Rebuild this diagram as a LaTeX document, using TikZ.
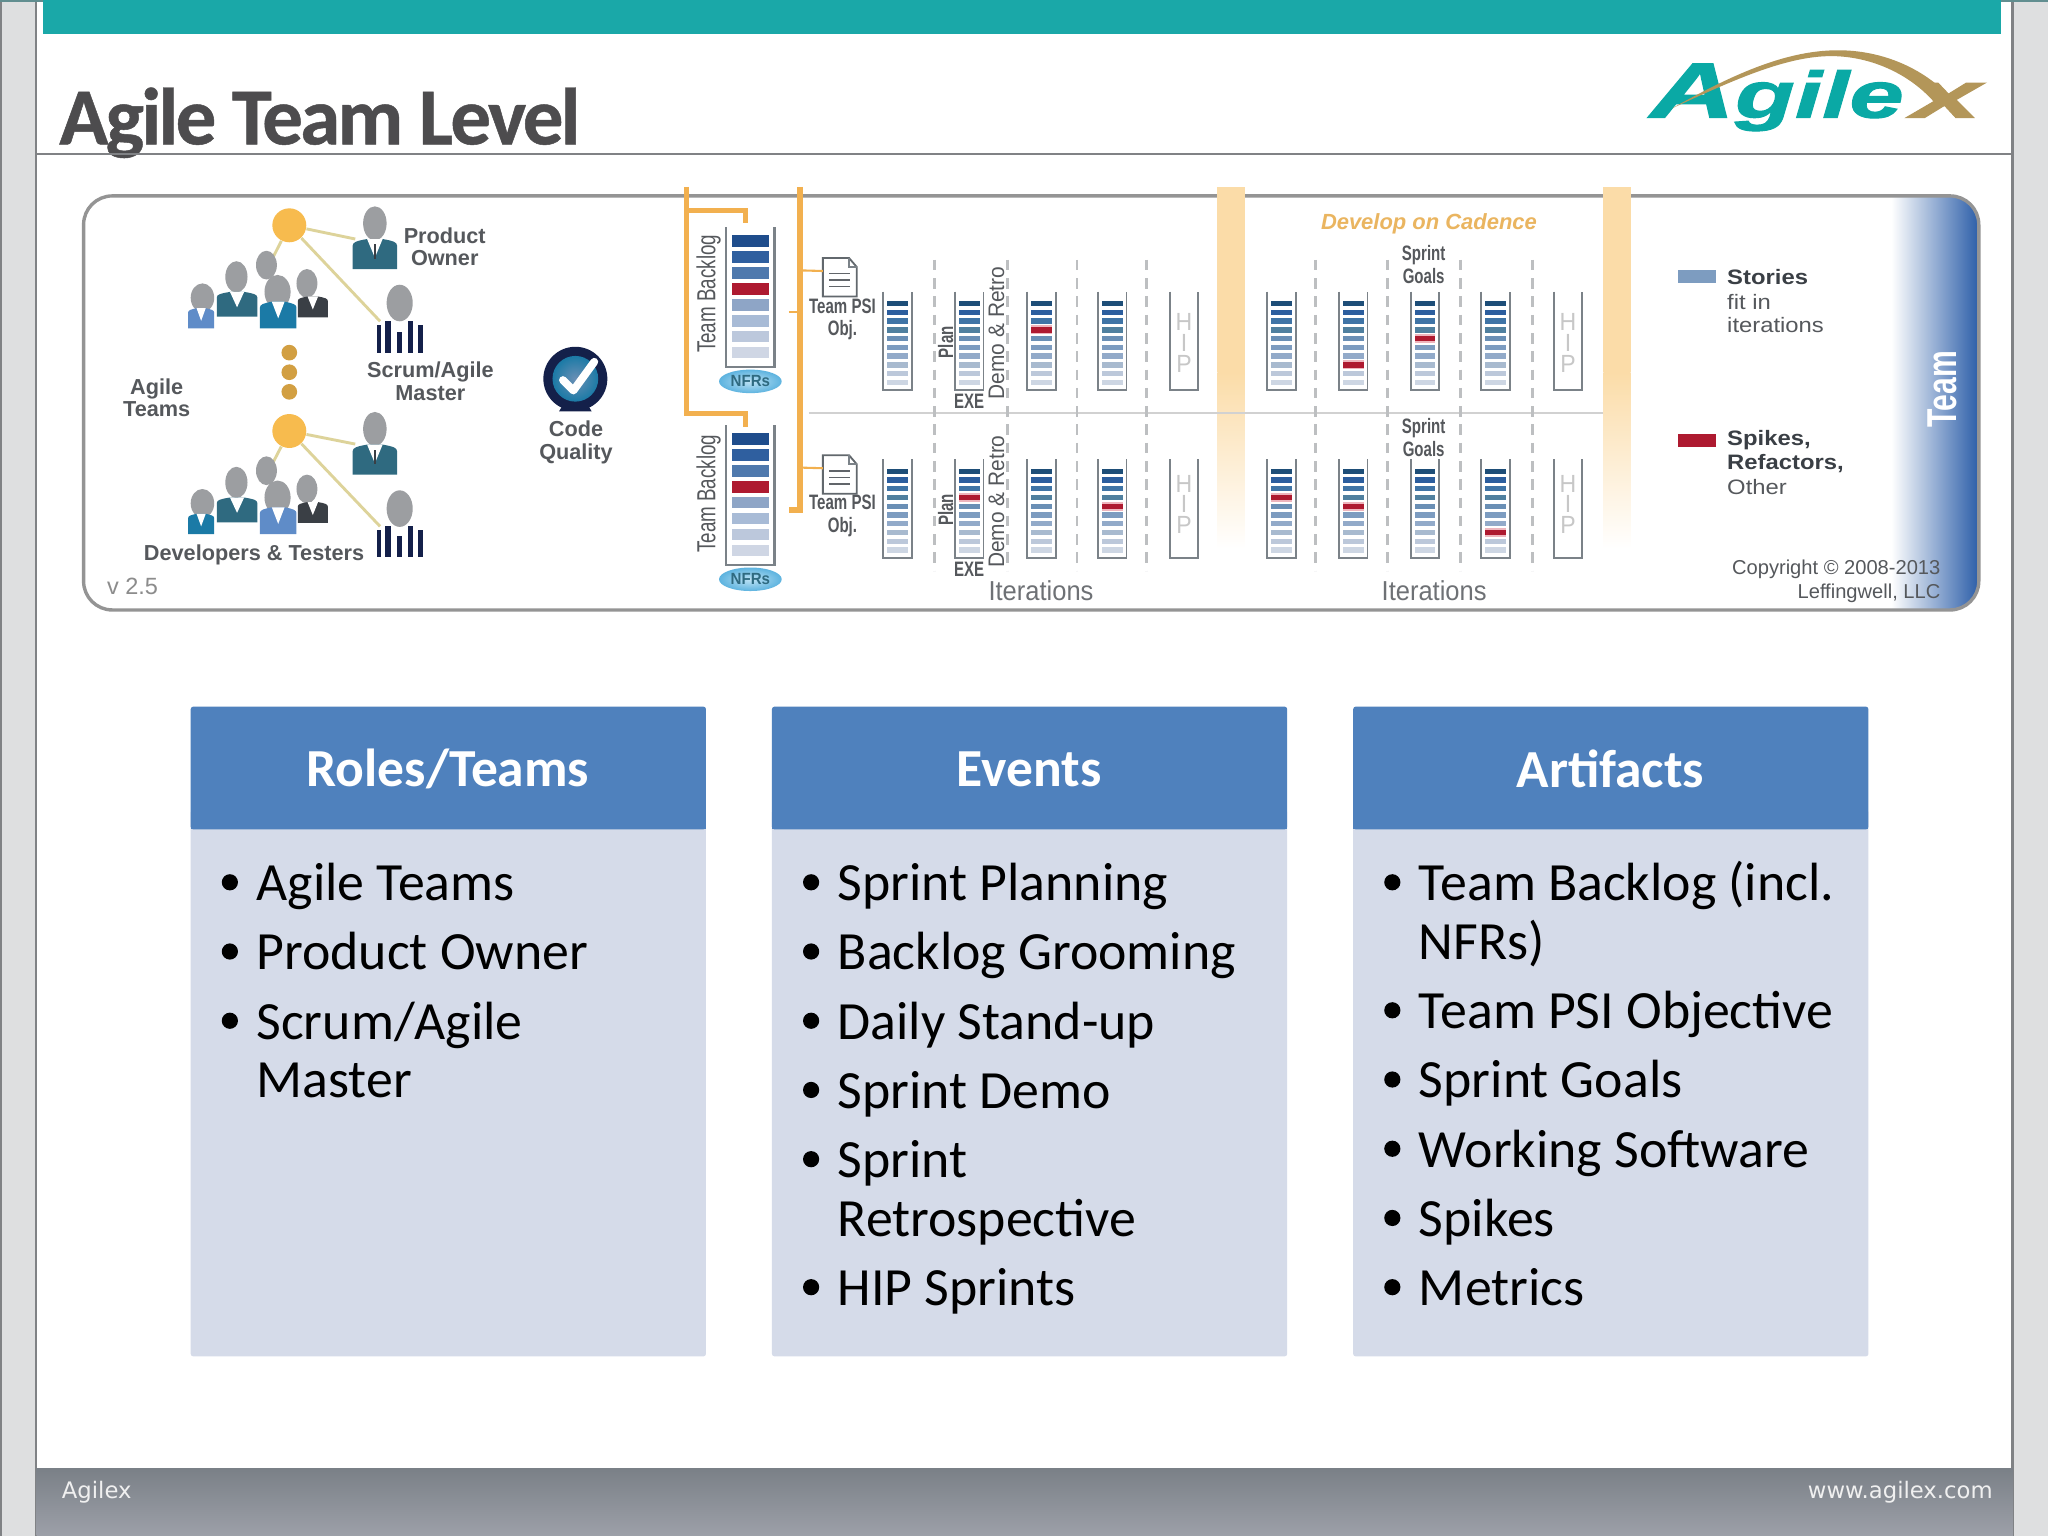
\documentclass[tikz,border=0pt]{standalone}
\usepackage{fontspec}
\setmainfont{Carlito}
\newfontfamily\titlef[LetterSpace=-3.4,FakeBold=0.6]{Carlito}
\newfontfamily\lsans{Liberation Sans}
\newfontfamily\nsans[FakeStretch=0.72]{Liberation Sans}
\newfontfamily\isans[FakeStretch=0.93]{Liberation Sans}
\newfontfamily\wsans[FakeStretch=1.14]{Liberation Sans}
\newfontfamily\logof[FakeStretch=1.5,FakeBold=1.6]{Liberation Sans}
\newfontfamily\logox[FakeStretch=1.9,FakeBold=1.6]{Liberation Sans}
\newfontfamily\dvf{DejaVu Sans}
\definecolor{teal1}{HTML}{1AA8A8}
\definecolor{strip}{HTML}{DEDFE0}
\definecolor{rulegray}{HTML}{808285}
\definecolor{titlec}{HTML}{4D4C4E}
\definecolor{cardhead}{HTML}{4F81BD}
\definecolor{cardbody}{HTML}{D5DBE9}
\definecolor{bandc}{HTML}{FBDCA8}
\definecolor{orangeline}{HTML}{F2B04F}
\definecolor{cadc}{HTML}{EAB560}
\definecolor{hubc}{HTML}{F7BB4E}
\definecolor{linkc}{HTML}{DDD39A}
\definecolor{headc}{HTML}{9C9EA1}
\definecolor{suitc}{HTML}{2F6A80}
\definecolor{brightc}{HTML}{1B7AA6}
\definecolor{softc}{HTML}{5F8CC8}
\definecolor{darkc}{HTML}{3A3F45}
\definecolor{labc}{HTML}{55585C}
\definecolor{navyc}{HTML}{14204A}
\definecolor{redc}{HTML}{AE1A30}
\definecolor{pinkc}{HTML}{EEB5BD}
\definecolor{stackc}{HTML}{7B8288}
\definecolor{dashc}{HTML}{BDBFC1}
\definecolor{goldc}{HTML}{B39659}
\definecolor{logot}{HTML}{0AA9A5}
\definecolor{teamb}{HTML}{2C5EA8}
\definecolor{footT}{HTML}{7A8087}
\definecolor{footB}{HTML}{9DA0A9}
\definecolor{nfrI}{HTML}{BFE3F5}
\definecolor{nfrO}{HTML}{5DB3DF}
\definecolor{stcolA}{HTML}{1E4E78}
\definecolor{stcolB}{HTML}{2C5E9E}
\definecolor{stcolC}{HTML}{3F74A6}
\definecolor{stcolD}{HTML}{50809F}
\definecolor{stcolE}{HTML}{6A8FB5}
\definecolor{stcolF}{HTML}{7D9CC0}
\definecolor{stcolG}{HTML}{92AAC9}
\definecolor{stcolH}{HTML}{A8BACF}
\definecolor{stcolI}{HTML}{BCC8DA}
\definecolor{stcolJ}{HTML}{CDD6E3}
\definecolor{blA}{HTML}{1F4D8C}
\definecolor{blB}{HTML}{2F5F9F}
\definecolor{blC}{HTML}{4F79AD}
\definecolor{blD}{HTML}{6C8CB8}
\definecolor{blE}{HTML}{8EA5C6}
\definecolor{blF}{HTML}{A8BBD6}
\definecolor{blG}{HTML}{BCC8DC}
\definecolor{blH}{HTML}{CFD6E4}
\tikzset{
  cardtitle/.style={font=\fontsize{20.5}{22}\selectfont\bfseries,text=white,anchor=center,inner sep=0pt},
  item/.style={font=\fontsize{20.6}{22}\selectfont,text=black,anchor=base west,inner sep=0pt},
  lab/.style={font=\lsans\fontsize{8.3}{8.7}\selectfont\bfseries,text=labc,align=center,inner sep=0pt},
  leg/.style={font=\wsans\fontsize{8}{9}\selectfont,text=darkc,anchor=west,inner sep=0pt},
  legb/.style={leg,font=\wsans\fontsize{8}{9}\selectfont\bfseries},
  narrow/.style={font=\nsans\fontsize{8}{8.6}\selectfont\bfseries,text=labc,align=center,inner sep=0pt},
  iter/.style={font=\isans\fontsize{10.5}{11}\selectfont,text=labc!85,inner sep=0pt},
  hiptext/.style={font=\isans\fontsize{9.5}{10}\selectfont,text=black!22,inner sep=0pt},
  foot/.style={font=\dvf\fontsize{8.7}{10}\selectfont,text=white!94!black,inner sep=0pt},
  link/.style={draw=linkc,line width=1.1pt},
  hub/.style={circle,fill=hubc,inner sep=0pt,minimum size=13pt},
  hubdot/.style={circle,fill=hubc!85!black,inner sep=0pt,minimum size=6pt},
  oline/.style={draw=orangeline,line width=1.9pt},
  stackline/.style={draw=stackc,line width=0.7pt},
  dashl/.style={draw=dashc,line width=1pt,dash pattern=on 4pt off 3pt},
  head/.style={fill=headc},
}
\newcommand\suitbody[5]{%
  \begin{scope}[shift={(#1,#2)},xscale=#3,yscale=#4]
    \fill[#5] (-1,1) -- (-1,.22) .. controls (-1,.1) and (-.8,.06) .. (-.35,0) -- (.35,0) .. controls (.8,.06) and (1,.1) .. (1,.22) -- (1,1) -- cycle;
    \fill[white] (-.35,0) -- (0,.62) -- (.35,0) -- cycle;
  \end{scope}}
\newcommand\stripes[2]{%
  \begin{scope}[shift={(#1,#2)}]
    \fill[navyc] (-17.5,3) rectangle (-14.5,24);
    \fill[navyc] (-11,0) rectangle (-6.5,24);
    \fill[navyc] (-2,8) rectangle (2,24);
    \fill[navyc] (6.5,0) rectangle (10.5,24);
    \fill[navyc] (14,3) rectangle (17.5,24);
  \end{scope}}
\newcommand\teamgroup[3]{% dy, left colour, centre colour
  \begin{scope}[yshift=#1*-0.5pt]
    \fill[head] (204,203) ellipse (8 and 11);
    \fill[head] (235,217) ellipse (8 and 11);
    \suitbody{239.5}{227}{11.5}{16}{darkc}
    \fill[head] (155,228) ellipse (9 and 11);
    \suitbody{154}{236}{10}{15.5}{#2}
    \fill[head] (181,212) ellipse (8.5 and 12);
    \suitbody{181.5}{223.5}{15.5}{19}{suitc}
    \fill[head] (212.5,223.5) ellipse (10 and 13);
    \suitbody{213}{231}{14}{20.5}{#3}
  \end{scope}}
\newcommand\stackbars[3]{% cx, top, red index
  \draw[stackline] (#1-11,#2-7) -- (#1-11,#2+68.5) -- (#1+11,#2+68.5) -- (#1+11,#2-7);
  \foreach \n/\c [count=\i] in {0/stcolA,1/stcolB,2/stcolC,3/stcolD,4/stcolE,5/stcolF,6/stcolG,7/stcolH,8/stcolI,9/stcolJ}{
    \ifnum\i=#3\relax
      \fill[pinkc] (#1-8,#2+\n*6.7-1.2) rectangle (#1+8,#2+\n*6.7+5.4);
      \fill[redc] (#1-8,#2+\n*6.7) rectangle (#1+8,#2+\n*6.7+4.2);
    \else
      \fill[\c] (#1-8,#2+\n*6.7) rectangle (#1+8,#2+\n*6.7+4.2);
    \fi
  }}
\newcommand\hipstack[3]{%
  \draw[stackline] (#1-11,#2-7) -- (#1-11,#2+68.5) -- (#1+11,#2+68.5) -- (#1+11,#2-7);
  \node[hiptext] at (#1,#2+#3) {H};
  \node[hiptext] at (#1,#2+#3+16) {I};
  \node[hiptext] at (#1,#2+#3+32) {P};}
\newcommand\backlog[2]{% top, name
  \draw[stackline,line width=.9pt] (556,#1) -- (556,#1+107) -- (593,#1+107) -- (593,#1);
  \foreach \n/\c [count=\i] in {0/blA,1/blB,2/blC,3/redc,4/blE,5/blF,6/blG,7/blH}{
    \fill[\c] (560.5,#1+6+\n*12.2) rectangle (588.5,#1+15+\n*12.2);
  }
  \shade[inner color=nfrI,outer color=nfrO] (574.5,#1+118) ellipse (24 and 9);
  \node[font=\isans\fontsize{6.2}{7}\selectfont\bfseries,text=suitc,inner sep=0pt] (#2) at (574.5,#1+118) {NFRs};}
\newcommand\docicon[2]{% top, name
  \draw[draw=stackc!80!black,fill=white,line width=.7pt] (630,#1) -- (650,#1) -- (656,#1+7) -- (656,#1+29.5) -- (630,#1+29.5) -- cycle;
  \draw[draw=stackc,line width=.7pt] (650,#1) -- (650,#1+7) -- (656,#1+7);
  \draw[draw=darkc!80,line width=.6pt] (635,#1+12) -- (651,#1+12) (635,#1+17) -- (651,#1+17) (635,#1+22) -- (651,#1+22);
  \coordinate (#2) at (630,#1+10);}
\begin{document}
\begin{tikzpicture}[x=0.5pt,y=-0.5pt]
\useasboundingbox (0,0) rectangle (1568,1176);
\fill[white] (0,0) rectangle (1568,1176);
% side strips
\fill[strip] (0,0) rectangle (27,1176);
\fill[rulegray] (0,0) rectangle (1.5,1176);
\fill[rulegray] (26.5,0) rectangle (28,1176);
\fill[strip] (1541,0) rectangle (1568,1176);
\fill[rulegray] (1540,0) rectangle (1542,1176);
% top band
\fill[rulegray!70!teal1] (0,0) rectangle (1568,1.2);
\fill[teal1] (33,0) rectangle (1532,26);
% header
\node[font=\titlef\fontsize{31}{32}\selectfont\bfseries,text=titlec,anchor=base west,inner sep=0pt] (title) at (45,110.5) {Agile Team Level};
\fill[rulegray] (28,116.8) rectangle (1541,118.6);
% logo
\node[font=\logof\fontsize{25}{26}\selectfont\bfseries\itshape,text=logot,anchor=base west,inner sep=0pt] (logo) at (1263,90) {{\fontsize{30}{30}\selectfont A}gile};
\node[font=\logox\fontsize{25}{26}\selectfont\bfseries\itshape,text=goldc,anchor=base east,inner sep=0pt] (logox) at (1517,90) {x};
\fill[goldc] (1280,83) .. controls (1330,55) and (1370,38) .. (1409,38.5) .. controls (1445,39) and (1478,55) .. (1498,80) -- (1484,82) .. controls (1465,58) and (1435,44) .. (1405,43) .. controls (1370,42) and (1330,60) .. (1280,83) -- cycle;
% framed picture
\begin{scope}
  \clip[rounded corners=11pt] (64,150) rectangle (1515,467);
  \shade[left color=white,right color=teamb] (1448,150) rectangle (1515,467);
\end{scope}
\draw[draw=black!42,line width=1.3pt,rounded corners=11pt] (64,150) rectangle (1515,467);
\node[font=\nsans\fontsize{16}{17}\selectfont\bfseries,text=white,rotate=90,inner sep=0pt] (teamlab) at (1487,298) {Team};
% orange bands
\foreach \bx in {932,1227.5}{
  \fill[bandc] (\bx,143) rectangle (\bx+21,285);
  \shade[top color=bandc,bottom color=white] (\bx,285) rectangle (\bx+21,420);
}
% divider
\coordinate (divL) at (619,316.5);
\coordinate (divR) at (1227,316.5);
\draw[draw=black!18,line width=.8pt] (divL) -- (divR);
% left side: hubs and people
\coordinate (po1) at (272,183);
\coordinate (sm1) at (291,246);
\coordinate (tm1) at (206,203);
\coordinate (po2) at (272,340);
\coordinate (sm2) at (291,403);
\coordinate (tm2) at (206,360);
\node[hub] (hub1) at (221.5,172.5) {};
\node[hub] (hub2) at (221.5,330) {};
\node[hubdot] (dot1) at (221.5,270) {};
\node[hubdot] (dot2) at (221.5,285) {};
\node[hubdot] (dot3) at (221.5,300) {};
\draw[link] (hub1) -- (po1);
\draw[link] (hub1) -- (sm1);
\draw[link] (hub1) -- (tm1);
\draw[link] (hub2) -- (po2);
\draw[link] (hub2) -- (sm2);
\draw[link] (hub2) -- (tm2);
\teamgroup{0}{softc}{brightc}
\teamgroup{157.4}{brightc}{softc}
\foreach \dy in {0,157.4}{
  \fill[head] (287,171+\dy) ellipse (9 and 13);
  \suitbody{287}{183+\dy}{17}{23}{suitc}
  \fill[darkc] (286,187+\dy) rectangle (288,198+\dy);
  \fill[head] (306,232+\dy) ellipse (10 and 14);
}
\stripes{306}{246}
\stripes{306}{402.5}
\node[lab] (lpo) at (340.5,189) {Product\\Owner};
\node[lab] (lat) at (120,304.5) {Agile\\Teams};
\node[lab] (lsm) at (329.5,292) {Scrum/Agile\\Master};
\node[lab] (ldt) at (194.5,425) {Developers \& Testers};
\node[font=\lsans\fontsize{9}{10}\selectfont,text=black!45,inner sep=0pt] (ver) at (101.5,449) {v 2.5};
% code quality icon
\fill[navyc] (431,310) -- (450,310) -- (453,315) -- (428,315) -- cycle;
\node[circle,fill=navyc,minimum size=24.5pt,inner sep=0pt] (cq) at (440.5,290) {};
\shade[inner color=stcolE,outer color=brightc] (cq.center) circle (17.5);
\draw[white,line width=3pt,line cap=round,line join=round] (431,291) -- (439,299) -- (455,277);
\node[lab] (lcq) at (441,338.5) {Code\\Quality};
% program lines
\coordinate (oTopA) at (525.5,143);
\coordinate (oBotA) at (525.5,316.5);
\coordinate (oB1a) at (525.5,161);
\coordinate (oB1b) at (571,161);
\coordinate (oB1c) at (571,171);
\coordinate (oB2b) at (571,316.5);
\coordinate (oB2c) at (571,327);
\draw[oline] (oTopA) -- (oBotA) -- (oB2b) -- (oB2c);
\draw[oline] (oB1a) -- (oB1b) -- (oB1c);
\coordinate (oTopB) at (612.5,143);
\coordinate (oBotB) at (612.5,390.5);
\coordinate (oStubA) at (604,390.5);
\coordinate (oStubB) at (604,239);
\coordinate (oMidB) at (612.5,239);
\coordinate (oDocA) at (612.5,207);
\coordinate (oDocB) at (612.5,358);
\draw[oline,line width=2.2pt] (oTopB) -- (oBotB) -- (oStubA);
\draw[oline,line width=.8pt] (oStubB) -- (oMidB);
% backlogs
\backlog{174}{nfrA}
\backlog{325.5}{nfrB}
\node[narrow,rotate=90,font=\nsans\fontsize{10}{11}\selectfont] (tbA) at (542.5,225) {Team Backlog};
\node[narrow,rotate=90,font=\nsans\fontsize{10}{11}\selectfont] (tbB) at (542.5,378) {Team Backlog};
% PSI docs
\docicon{197.5}{docA}
\docicon{348.5}{docB}
\draw[oline,line width=.8pt] (oDocA) -- (docA);
\draw[oline,line width=.8pt] (oDocB) -- (docB);
\node[narrow] (psiA) at (645,244.5) {Team PSI\\Obj.};
\node[narrow] (psiB) at (645,395) {Team PSI\\Obj.};
% dashed lines
\foreach \dx in {715.5,771.5,824.5,878,1007,1062.5,1118,1173.5}{
  \draw[dashl] (\dx,199) -- (\dx,437);
}
% sprint stacks
\foreach \cx/\r in {687/0,742/0,797.5/4,851.5/0,981/0,1036/8,1091/5,1145/0}{\stackbars{\cx}{230.3}{\r}}
\foreach \cx/\r in {687/0,742/4,797.5/0,851.5/5,981/4,1036/5,1091/0,1145/8}{\stackbars{\cx}{358.7}{\r}}
\hipstack{906.5}{230.3}{16}
\hipstack{1200.5}{230.3}{16}
\hipstack{906.5}{358.7}{11.5}
\hipstack{1200.5}{358.7}{11.5}
% labels
\node[narrow,rotate=90] (planA) at (724,262) {Plan};
\node[narrow,rotate=90] (planB) at (724,390.5) {Plan};
\node[narrow,rotate=90,font=\isans\fontsize{8.6}{9}\selectfont] (drA) at (763,255) {Demo \& Retro};
\node[narrow,rotate=90,font=\isans\fontsize{8.6}{9}\selectfont] (drB) at (763,384) {Demo \& Retro};
\node[narrow] (exeA) at (742,307) {EXE};
\node[narrow] (exeB) at (742,436) {EXE};
\node[iter] (itA) at (797,452) {Iterations};
\node[iter] (itB) at (1098,452) {Iterations};
\node[narrow] (sgA) at (1090,202.5) {Sprint\\Goals};
\node[narrow] (sgB) at (1090,335) {Sprint\\Goals};
\node[font=\lsans\fontsize{8.4}{9}\selectfont\bfseries\itshape,text=cadc,inner sep=0pt] (cad) at (1094,171) {Develop on Cadence};
% legend
\fill[stcolF] (1285,206.5) rectangle (1314,217);
\fill[redc] (1285,332) rectangle (1314,342);
\node[legb] (lg1) at (1322,212) {Stories};
\node[leg,text=labc] (lg2) at (1322,231) {fit in};
\node[leg,text=labc] (lg3) at (1322,249) {iterations};
\node[legb] (lg4) at (1322,337) {Spikes,};
\node[legb] (lg5) at (1322,355) {Refactors,};
\node[leg,text=labc] (lg6) at (1322,373) {Other};
\node[font=\lsans\fontsize{7.7}{9}\selectfont,text=labc,align=right,anchor=east,inner sep=0pt] (copy) at (1486,445) {Copyright © 2008-2013\\Leffingwell, LLC};
% cards
\foreach \cx/\nm/\tt in {146/cardA/Roles\slash Teams,591/cardB/Events,1036/cardC/Artifacts}{
  \fill[cardbody,rounded corners=1pt] (\cx,620) rectangle (\cx+394.5,1038.5);
  \fill[cardhead,rounded corners=1pt] (\cx,541) rectangle (\cx+394.5,635);
  \fill[cardhead] (\cx,625) rectangle (\cx+394.5,635);
  \node[cardtitle] (\nm) at (\cx+197,589) {\tt};
}
\foreach \y/\t [count=\i] in {689.5/Agile Teams,742.5/Product Owner,795.5/Scrum\slash Agile,840.5/Master}{
  \node[item] (ra\i) at (196,\y) {\t};
}
\foreach \y in {690,743,796}{\fill[black] (176,\y-14.5) circle (6.2);}
\foreach \y/\t [count=\i] in {689.5/Sprint Planning,742.5/Backlog Grooming,795.5/Daily Stand-up,848.5/Sprint Demo,901.5/Sprint,946.5/Retrospective,999.5/HIP Sprints}{
  \node[item] (rb\i) at (641,\y) {\t};
}
\foreach \y in {690,743,796,849,902,1000}{\fill[black] (621,\y-14.5) circle (6.2);}
\foreach \y/\t [count=\i] in {689.5/Team Backlog (incl.,734.5/NFRs),787.5/Team PSI Objective,840.5/Sprint Goals,893.5/Working Software,946.5/Spikes,999.5/Metrics}{
  \node[item] (rc\i) at (1086,\y) {\t};
}
\foreach \y in {690,788,841,894,947,1000}{\fill[black] (1066,\y-14.5) circle (6.2);}
% footer
\shade[top color=footT,bottom color=footB] (28,1124) rectangle (1541,1176);
\node[foot,anchor=base west] (fL) at (47,1147) {Agilex};
\node[foot,anchor=base east] (fR) at (1526,1147) {www.agilex.com};
\end{tikzpicture}
\end{document}
